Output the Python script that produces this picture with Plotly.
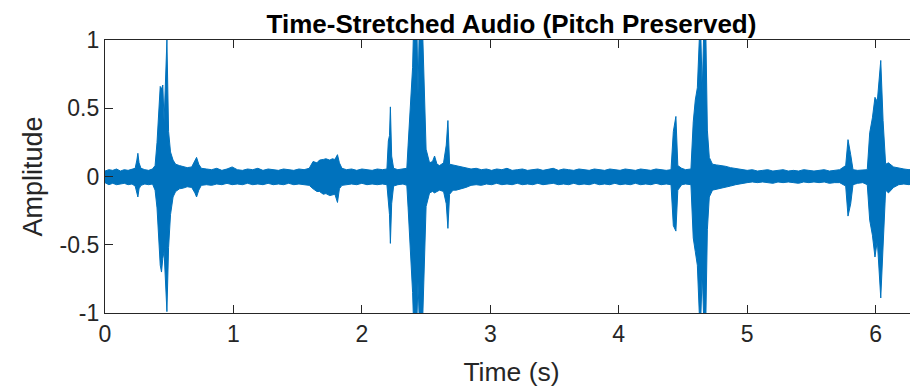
import plotly.graph_objects as go

# envelope of the waveform (time in s, upper / lower amplitude)
time_s = [
    0.000, 0.030, 0.060, 0.090, 0.120, 0.150, 0.180, 0.210, 0.235, 0.248,
    0.256, 0.265, 0.280, 0.310, 0.340, 0.370, 0.390, 0.405, 0.415, 0.430,
    0.440, 0.450, 0.460, 0.470, 0.482, 0.495, 0.510, 0.530, 0.550, 0.580,
    0.610, 0.640, 0.675, 0.700, 0.713, 0.730, 0.750, 0.790, 0.830, 0.870,
    0.910, 0.950, 0.990, 1.030, 1.070, 1.110, 1.150, 1.190, 1.230, 1.270,
    1.310, 1.350, 1.390, 1.430, 1.470, 1.510, 1.550, 1.590, 1.620, 1.650,
    1.670, 1.700, 1.720, 1.750, 1.770, 1.790, 1.810, 1.825, 1.845, 1.880,
    1.920, 1.960, 2.000, 2.040, 2.080, 2.120, 2.160, 2.195, 2.206, 2.215,
    2.222, 2.232, 2.247, 2.280, 2.320, 2.350, 2.360, 2.380, 2.395, 2.400,
    2.430, 2.437, 2.445, 2.475, 2.490, 2.500, 2.527, 2.550, 2.566, 2.585,
    2.605, 2.636, 2.657, 2.670, 2.683, 2.710, 2.735, 2.770, 2.810, 2.850,
    2.890, 2.930, 2.970, 3.010, 3.050, 3.090, 3.130, 3.170, 3.210, 3.250,
    3.290, 3.330, 3.370, 3.410, 3.450, 3.490, 3.530, 3.570, 3.610, 3.650,
    3.690, 3.730, 3.770, 3.810, 3.850, 3.890, 3.930, 3.970, 4.010, 4.050,
    4.090, 4.130, 4.170, 4.210, 4.250, 4.290, 4.330, 4.370, 4.407, 4.425,
    4.445, 4.460, 4.490, 4.520, 4.562, 4.580, 4.596, 4.612, 4.627, 4.640,
    4.650, 4.660, 4.679, 4.690, 4.705, 4.730, 4.760, 4.800, 4.830, 4.870,
    4.910, 4.960, 5.000, 5.040, 5.080, 5.120, 5.160, 5.200, 5.240, 5.280,
    5.320, 5.360, 5.400, 5.440, 5.480, 5.520, 5.560, 5.600, 5.640, 5.680,
    5.720, 5.767, 5.785, 5.806, 5.824, 5.860, 5.900, 5.935, 5.954, 5.975,
    5.995, 6.013, 6.040, 6.058, 6.078, 6.100, 6.140, 6.180, 6.220, 6.260,
    6.300, 6.330,
]
upper = [
    0.040, 0.050, 0.045, 0.055, 0.040, 0.050, 0.045, 0.055, 0.060, 0.120,
    0.170, 0.100, 0.060, 0.050, 0.045, 0.055, 0.080, 0.250, 0.450, 0.660,
    0.640, 0.670, 0.400, 0.760, 1.000, 0.330, 0.180, 0.120, 0.090, 0.080,
    0.070, 0.065, 0.070, 0.110, 0.140, 0.090, 0.060, 0.055, 0.050, 0.060,
    0.045, 0.055, 0.070, 0.050, 0.045, 0.055, 0.050, 0.060, 0.045, 0.055,
    0.050, 0.045, 0.055, 0.050, 0.045, 0.055, 0.050, 0.060, 0.110, 0.100,
    0.120, 0.125, 0.130, 0.120, 0.130, 0.125, 0.160, 0.100, 0.060, 0.050,
    0.055, 0.045, 0.055, 0.050, 0.045, 0.055, 0.050, 0.055, 0.260, 0.300,
    0.510, 0.150, 0.060, 0.050, 0.055, 0.060, 0.230, 0.570, 0.800, 1.000,
    1.000, 0.600, 1.000, 1.000, 0.550, 0.200, 0.100, 0.110, 0.150, 0.090,
    0.080, 0.100, 0.230, 0.410, 0.090, 0.085, 0.080, 0.070, 0.065, 0.055,
    0.060, 0.050, 0.055, 0.045, 0.055, 0.050, 0.060, 0.045, 0.050, 0.055,
    0.045, 0.050, 0.055, 0.045, 0.050, 0.060, 0.045, 0.055, 0.050, 0.045,
    0.055, 0.050, 0.045, 0.055, 0.050, 0.045, 0.055, 0.050, 0.045, 0.055,
    0.050, 0.045, 0.055, 0.050, 0.045, 0.055, 0.050, 0.045, 0.050, 0.330,
    0.440, 0.080, 0.060, 0.050, 0.055, 0.400, 0.560, 0.650, 1.000, 1.000,
    0.620, 1.000, 1.000, 0.340, 0.140, 0.090, 0.085, 0.080, 0.075, 0.065,
    0.060, 0.055, 0.045, 0.050, 0.040, 0.045, 0.050, 0.040, 0.045, 0.050,
    0.040, 0.045, 0.040, 0.050, 0.045, 0.040, 0.045, 0.050, 0.040, 0.045,
    0.050, 0.080, 0.270, 0.160, 0.050, 0.045, 0.050, 0.050, 0.320, 0.430,
    0.580, 0.550, 0.850, 0.410, 0.090, 0.100, 0.070, 0.060, 0.055, 0.050,
    0.055, 0.050,
]
lower = [
    -0.045, -0.060, -0.050, -0.060, -0.055, -0.050, -0.060, -0.055, -0.070, -0.110,
    -0.150, -0.090, -0.065, -0.055, -0.060, -0.055, -0.100, -0.230, -0.430, -0.650,
    -0.700, -0.600, -0.550, -0.730, -0.990, -0.520, -0.280, -0.150, -0.110, -0.090,
    -0.085, -0.075, -0.080, -0.120, -0.150, -0.100, -0.065, -0.060, -0.065, -0.055,
    -0.060, -0.050, -0.060, -0.055, -0.060, -0.050, -0.060, -0.055, -0.060, -0.050,
    -0.060, -0.055, -0.060, -0.050, -0.060, -0.055, -0.060, -0.065, -0.090, -0.110,
    -0.110, -0.130, -0.125, -0.140, -0.135, -0.130, -0.190, -0.090, -0.065, -0.060,
    -0.055, -0.060, -0.050, -0.060, -0.055, -0.060, -0.055, -0.060, -0.200, -0.280,
    -0.490, -0.200, -0.070, -0.060, -0.055, -0.065, -0.230, -0.550, -0.850, -1.000,
    -1.000, -0.770, -1.000, -1.000, -0.480, -0.220, -0.120, -0.110, -0.120, -0.110,
    -0.100, -0.110, -0.200, -0.380, -0.130, -0.100, -0.100, -0.090, -0.080, -0.065,
    -0.060, -0.065, -0.055, -0.060, -0.050, -0.060, -0.055, -0.060, -0.050, -0.060,
    -0.055, -0.060, -0.050, -0.060, -0.055, -0.050, -0.060, -0.055, -0.060, -0.050,
    -0.060, -0.055, -0.060, -0.050, -0.060, -0.055, -0.060, -0.050, -0.060, -0.055,
    -0.060, -0.050, -0.060, -0.055, -0.060, -0.050, -0.060, -0.055, -0.060, -0.360,
    -0.400, -0.100, -0.060, -0.055, -0.060, -0.450, -0.550, -0.650, -1.000, -1.000,
    -0.700, -1.000, -1.000, -0.390, -0.150, -0.100, -0.095, -0.085, -0.080, -0.070,
    -0.060, -0.050, -0.045, -0.040, -0.045, -0.040, -0.045, -0.050, -0.040, -0.045,
    -0.040, -0.045, -0.050, -0.040, -0.045, -0.040, -0.045, -0.040, -0.050, -0.045,
    -0.045, -0.070, -0.290, -0.200, -0.060, -0.050, -0.045, -0.060, -0.320, -0.430,
    -0.590, -0.470, -0.890, -0.480, -0.100, -0.120, -0.080, -0.060, -0.055, -0.060,
    -0.050, -0.055,
]

x_ticks = [0, 1, 2, 3, 4, 5, 6]
y_ticks = [-1, -0.5, 0, 0.5, 1]
y_tick_text = ['-1', '-0.5', '0', '0.5', '1']

LINE = '#0072BD'
AXIS = '#262626'
FONT = 'Arial, Liberation Sans, sans-serif'

fig = go.Figure()

fig.add_trace(go.Scatter(
    x=time_s + time_s[::-1],
    y=upper + lower[::-1],
    mode='lines',
    fill='toself',
    fillcolor=LINE,
    line=dict(color=LINE, width=1),
    showlegend=False,
    hoverinfo='skip'
))

# the page body adds an 8px margin, so the figure is 8px smaller than the window
fig.update_layout(
    width=910,
    height=380,
    margin=dict(l=97, r=0, t=32, b=75, autoexpand=False),
    paper_bgcolor='white',
    plot_bgcolor='white',
    font=dict(family=FONT, color=AXIS),
    title=dict(
        text='<b>Time-Stretched Audio (Pitch Preserved)</b>',
        font=dict(size=26, color='black', family=FONT),
        x=0.5, xref='paper', xanchor='center',
        y=1 - 15.5 / 380, yref='container', yanchor='middle'
    ),
    xaxis=dict(
        range=[0, 6.33],
        tickvals=x_ticks,
        ticks='inside',
        ticklen=8,
        tickwidth=1.2,
        tickcolor=AXIS,
        showline=True,
        linecolor=AXIS,
        linewidth=1.3,
        mirror='ticks',
        showgrid=False,
        zeroline=False,
        automargin=False,
        tickfont=dict(size=23, color=AXIS),
        title=dict(text='Time (s)', font=dict(size=26.5, color=AXIS), standoff=16)
    ),
    yaxis=dict(
        range=[-1, 1],
        tickvals=y_ticks,
        ticktext=y_tick_text,
        ticks='inside',
        ticklen=8,
        tickwidth=1.2,
        tickcolor=AXIS,
        showline=True,
        linecolor=AXIS,
        linewidth=1.3,
        mirror=False,
        showgrid=False,
        zeroline=False,
        automargin=False,
        tickfont=dict(size=23, color=AXIS),
        title=dict(text='Amplitude', font=dict(size=27, color=AXIS), standoff=9)
    )
)

fig.write_html("out.html")
